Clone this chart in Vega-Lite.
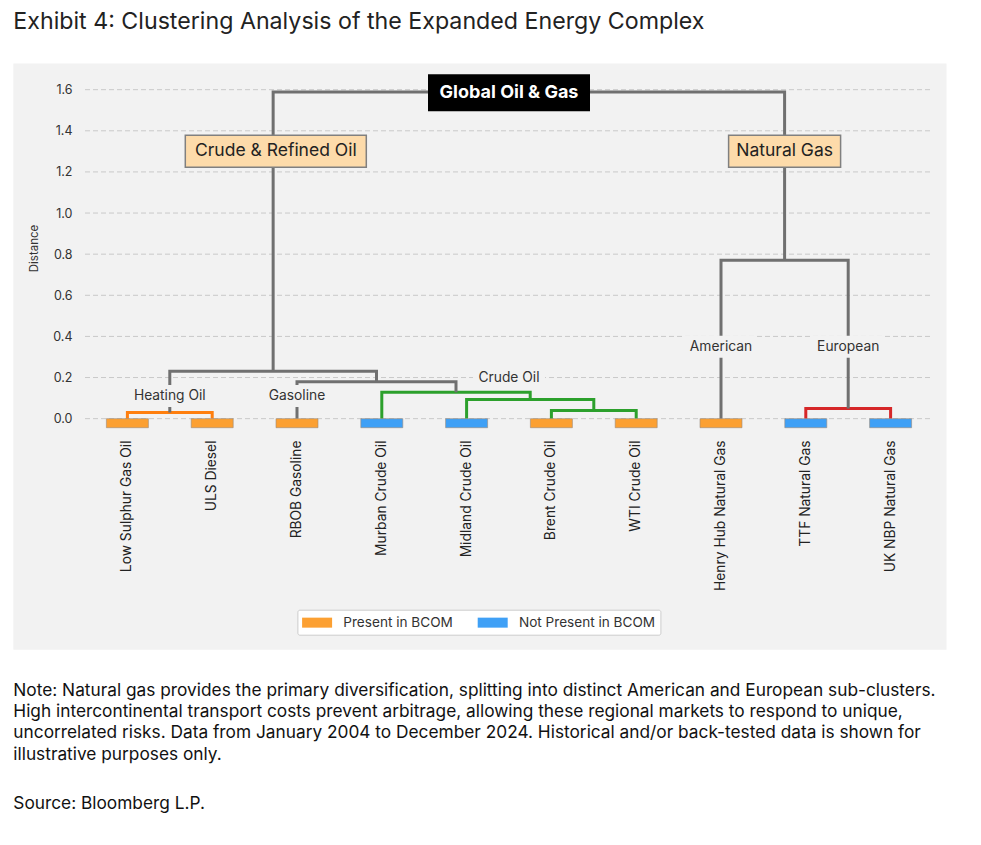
{
  "$schema": "https://vega.github.io/schema/vega-lite/v6.json",
  "background": "white",
  "padding": {"left": 13, "top": 10, "right": 10, "bottom": 10},
  "config": {"font": "Inter", "view": {"stroke": null}},
  "datasets": {
    "leaves": [
      {"name": "Low Sulphur Gas Oil", "bcom": "Present in BCOM"},
      {"name": "ULS Diesel", "bcom": "Present in BCOM"},
      {"name": "RBOB Gasoline", "bcom": "Present in BCOM"},
      {"name": "Murban Crude Oil", "bcom": "Not Present in BCOM"},
      {"name": "Midland Crude Oil", "bcom": "Not Present in BCOM"},
      {"name": "Brent Crude Oil", "bcom": "Present in BCOM"},
      {"name": "WTI Crude Oil", "bcom": "Present in BCOM"},
      {"name": "Henry Hub Natural Gas", "bcom": "Present in BCOM"},
      {"name": "TTF Natural Gas", "bcom": "Not Present in BCOM"},
      {"name": "UK NBP Natural Gas", "bcom": "Not Present in BCOM"}
    ],
    "links": [
      {"link": "L1", "cluster": "Heating Oil", "seq": 1, "x": 0, "height": 0},
      {"link": "L1", "cluster": "Heating Oil", "seq": 2, "x": 0, "height": 0.03},
      {"link": "L1", "cluster": "Heating Oil", "seq": 3, "x": 1, "height": 0.03},
      {"link": "L1", "cluster": "Heating Oil", "seq": 4, "x": 1, "height": 0},
      {"link": "L2", "cluster": "Crude Oil", "seq": 1, "x": 5, "height": 0},
      {"link": "L2", "cluster": "Crude Oil", "seq": 2, "x": 5, "height": 0.04},
      {"link": "L2", "cluster": "Crude Oil", "seq": 3, "x": 6, "height": 0.04},
      {"link": "L2", "cluster": "Crude Oil", "seq": 4, "x": 6, "height": 0},
      {"link": "L3", "cluster": "European", "seq": 1, "x": 8, "height": 0},
      {"link": "L3", "cluster": "European", "seq": 2, "x": 8, "height": 0.05},
      {"link": "L3", "cluster": "European", "seq": 3, "x": 9, "height": 0.05},
      {"link": "L3", "cluster": "European", "seq": 4, "x": 9, "height": 0},
      {"link": "L4", "cluster": "Crude Oil", "seq": 1, "x": 4, "height": 0},
      {"link": "L4", "cluster": "Crude Oil", "seq": 2, "x": 4, "height": 0.093},
      {"link": "L4", "cluster": "Crude Oil", "seq": 3, "x": 5.5, "height": 0.093},
      {"link": "L4", "cluster": "Crude Oil", "seq": 4, "x": 5.5, "height": 0.04},
      {"link": "L5", "cluster": "Crude Oil", "seq": 1, "x": 3, "height": 0},
      {"link": "L5", "cluster": "Crude Oil", "seq": 2, "x": 3, "height": 0.128},
      {"link": "L5", "cluster": "Crude Oil", "seq": 3, "x": 4.75, "height": 0.128},
      {"link": "L5", "cluster": "Crude Oil", "seq": 4, "x": 4.75, "height": 0.093},
      {"link": "L6", "cluster": "Above", "seq": 1, "x": 2, "height": 0},
      {"link": "L6", "cluster": "Above", "seq": 2, "x": 2, "height": 0.179},
      {"link": "L6", "cluster": "Above", "seq": 3, "x": 3.875, "height": 0.179},
      {"link": "L6", "cluster": "Above", "seq": 4, "x": 3.875, "height": 0.128},
      {"link": "L7", "cluster": "Above", "seq": 1, "x": 0.5, "height": 0.03},
      {"link": "L7", "cluster": "Above", "seq": 2, "x": 0.5, "height": 0.231},
      {"link": "L7", "cluster": "Above", "seq": 3, "x": 2.9375, "height": 0.231},
      {"link": "L7", "cluster": "Above", "seq": 4, "x": 2.9375, "height": 0.179},
      {"link": "L8", "cluster": "Above", "seq": 1, "x": 7, "height": 0},
      {"link": "L8", "cluster": "Above", "seq": 2, "x": 7, "height": 0.771},
      {"link": "L8", "cluster": "Above", "seq": 3, "x": 8.5, "height": 0.771},
      {"link": "L8", "cluster": "Above", "seq": 4, "x": 8.5, "height": 0.05},
      {"link": "L9", "cluster": "Above", "seq": 1, "x": 1.71875, "height": 0.231},
      {"link": "L9", "cluster": "Above", "seq": 2, "x": 1.71875, "height": 1.589},
      {"link": "L9", "cluster": "Above", "seq": 3, "x": 7.75, "height": 1.589},
      {"link": "L9", "cluster": "Above", "seq": 4, "x": 7.75, "height": 0.771}
    ],
    "annotations": [
      {"label": "Global Oil & Gas", "kind": "root", "x": 4.5, "height": 1.585},
      {"label": "Crude & Refined Oil", "kind": "group", "x": 1.75, "height": 1.3},
      {"label": "Natural Gas", "kind": "group", "x": 7.75, "height": 1.3},
      {"label": "Heating Oil", "kind": "sub", "x": 0.5, "height": 0.11},
      {"label": "Gasoline", "kind": "sub", "x": 2, "height": 0.11},
      {"label": "Crude Oil", "kind": "sub", "x": 4.5, "height": 0.2},
      {"label": "American", "kind": "sub", "x": 7, "height": 0.35},
      {"label": "European", "kind": "sub", "x": 8.5, "height": 0.35}
    ],
    "ticks": [
      {"distance": 0}, {"distance": 0.2}, {"distance": 0.4}, {"distance": 0.6}, {"distance": 0.8},
      {"distance": 1.0}, {"distance": 1.2}, {"distance": 1.4}, {"distance": 1.6}
    ]
  },
  "title": {
    "text": [
      "Note: Natural gas provides the primary diversification, splitting into distinct American and European sub-clusters.",
      "High intercontinental transport costs prevent arbitrage, allowing these regional markets to respond to unique,",
      "uncorrelated risks. Data from January 2004 to December 2024. Historical and/or back-tested data is shown for",
      "illustrative purposes only."
    ],
    "subtitle": "Source: Bloomberg L.P.",
    "orient": "bottom",
    "anchor": "start",
    "font": "Inter",
    "fontSize": 17.3,
    "fontWeight": "normal",
    "lineHeight": 21.3,
    "color": "#111111",
    "offset": 32,
    "subtitleFont": "Inter",
    "subtitleFontSize": 17.3,
    "subtitleColor": "#111111",
    "subtitlePadding": 32
  },
  "vconcat": [
    {
      "title": {
        "text": "Exhibit 4: Clustering Analysis of the Expanded Energy Complex",
        "anchor": "start",
        "font": "Inter",
        "fontSize": 23.2,
        "fontWeight": "normal",
        "color": "#222222",
        "offset": 29
      },
      "width": 848,
      "height": 366,
      "resolve": {"scale": {"x": "independent"}},
      "layer": [
        {
          "layer": [
            {
              "data": {"values": [{}]},
              "mark": {"type": "rect", "fill": "#f2f2f2"},
              "encoding": {
                "x": {"datum": -1.345, "type": "quantitative", "scale": {"domain": [-0.5, 9.5], "nice": false, "zero": false}, "axis": null},
                "x2": {"datum": 9.66},
                "y": {
                  "datum": 1.727, "type": "quantitative", "scale": {"domain": [-0.06, 1.72], "nice": false, "zero": false},
                  "axis": {
                    "title": "Distance", "values": [0, 0.2, 0.4, 0.6, 0.8, 1.0, 1.2, 1.4, 1.6], "format": ".1f",
                    "grid": false, "ticks": false, "tickSize": 0, "domain": false, "zindex": 1,
                    "labelFont": "Inter", "labelFontSize": 12.5, "labelColor": "#333333", "labelPadding": 13,
                    "titleFont": "Inter", "titleFontSize": 11.5, "titleFontWeight": "normal", "titleColor": "#333333", "titlePadding": 13
                  }
                },
                "y2": {"datum": -1.1235}
              }
            },
            {
              "data": {"name": "ticks"},
              "mark": {"type": "rule", "stroke": "#c9c9c9", "strokeWidth": 1, "strokeDash": [5, 3]},
              "encoding": {
                "x": {"datum": -0.5, "type": "quantitative", "axis": null},
                "x2": {"datum": 9.5},
                "y": {"field": "distance", "type": "quantitative"}
              }
            },
            {
              "data": {"name": "links"},
              "mark": {"type": "line", "strokeWidth": 3, "strokeJoin": "miter"},
              "encoding": {
                "x": {"field": "x", "type": "quantitative", "axis": null},
                "y": {"field": "height", "type": "quantitative"},
                "detail": {"field": "link"},
                "order": {"field": "seq"},
                "stroke": {"field": "cluster", "type": "nominal", "legend": null,
                  "scale": {"domain": ["Above", "Heating Oil", "Crude Oil", "European"], "range": ["#707070", "#FF7F0E", "#2CA02C", "#D62728"]}}
              }
            },
            {
              "data": {"name": "annotations"},
              "transform": [{"filter": "datum.kind === 'sub'"}],
              "mark": {"type": "point", "filled": true, "opacity": 1, "fill": "#f2f2f2", "strokeWidth": 0, "size": 10000, "shape": "M-0.72,-0.22H0.72V0.22H-0.72Z"},
              "encoding": {
                "x": {"field": "x", "type": "quantitative", "axis": null},
                "y": {"field": "height", "type": "quantitative"}
              }
            },
            {
              "data": {"name": "annotations"},
              "transform": [{"filter": "datum.kind === 'root'"}],
              "mark": {"type": "point", "filled": true, "opacity": 1, "fill": "#000000", "strokeWidth": 0, "size": 10000, "shape": "M-1.62,-0.37H1.62V0.37H-1.62Z"},
              "encoding": {
                "x": {"field": "x", "type": "quantitative", "axis": null},
                "y": {"field": "height", "type": "quantitative"}
              }
            },
            {
              "data": {"name": "annotations"},
              "transform": [{"filter": "datum.kind === 'group'"}],
              "mark": {"type": "point", "filled": true, "opacity": 1, "fill": "#FDDBAA", "stroke": "#808080", "strokeWidth": 1.5, "size": 10000},
              "encoding": {
                "x": {"field": "x", "type": "quantitative", "axis": null},
                "y": {"field": "height", "type": "quantitative"},
                "shape": {"field": "label", "type": "nominal", "legend": null,
                  "scale": {"domain": ["Crude & Refined Oil", "Natural Gas"], "range": ["M-1.81,-0.32H1.81V0.32H-1.81Z", "M-1.12,-0.32H1.12V0.32H-1.12Z"]}}
              }
            },
            {
              "data": {"name": "annotations"},
              "transform": [{"filter": "datum.kind === 'sub'"}],
              "mark": {"type": "text", "font": "Inter", "fontSize": 13.8, "color": "#333333", "baseline": "middle", "align": "center"},
              "encoding": {
                "x": {"field": "x", "type": "quantitative", "axis": null},
                "y": {"field": "height", "type": "quantitative"},
                "text": {"field": "label"}
              }
            },
            {
              "data": {"name": "annotations"},
              "transform": [{"filter": "datum.kind === 'root'"}],
              "mark": {"type": "text", "font": "Inter", "fontSize": 18, "fontWeight": "bold", "color": "#ffffff", "baseline": "middle", "align": "center"},
              "encoding": {
                "x": {"field": "x", "type": "quantitative", "axis": null},
                "y": {"field": "height", "type": "quantitative"},
                "text": {"field": "label"}
              }
            },
            {
              "data": {"name": "annotations"},
              "transform": [{"filter": "datum.kind === 'group'"}],
              "mark": {"type": "text", "font": "Inter", "fontSize": 17.5, "color": "#222222", "baseline": "middle", "align": "center"},
              "encoding": {
                "x": {"field": "x", "type": "quantitative", "axis": null},
                "y": {"field": "height", "type": "quantitative"},
                "text": {"field": "label"}
              }
            }
          ]
        },
        {
          "data": {"name": "leaves"},
          "mark": {"type": "bar", "width": 42, "stroke": "#9a8a7a", "strokeWidth": 0.6},
          "encoding": {
            "x": {
              "field": "name", "type": "nominal", "sort": null,
              "scale": {"paddingInner": 0, "paddingOuter": 0},
              "axis": {
                "title": null, "labelAngle": -90, "ticks": false, "tickSize": 0, "domain": false, "grid": false, "zindex": 1,
                "labelFont": "Inter", "labelFontSize": 13.8, "labelColor": "#222222", "labelPadding": 9, "labelLimit": 300
              }
            },
            "y": {"datum": 0, "type": "quantitative"},
            "y2": {"datum": -0.044},
            "color": {
              "field": "bcom", "type": "nominal",
              "scale": {"domain": ["Present in BCOM", "Not Present in BCOM"], "range": ["#FCA032", "#3FA0F6"]},
              "legend": {
                "title": null, "orient": "none", "legendX": 212.4, "legendY": 544.7, "direction": "horizontal", "zindex": 1,
                "symbolType": "M-2,-0.6667H2V0.6667H-2Z", "symbolSize": 225, "symbolOffset": 7.2, "symbolStrokeWidth": 0,
                "labelOffset": 18.7, "columnPadding": 23.6, "padding": 5,
                "fillColor": "#ffffff", "strokeColor": "#cccccc", "cornerRadius": 2,
                "labelFont": "Inter", "labelFontSize": 13.6, "labelColor": "#333333"
              }
            }
          }
        }
      ]
    }
  ]
}
